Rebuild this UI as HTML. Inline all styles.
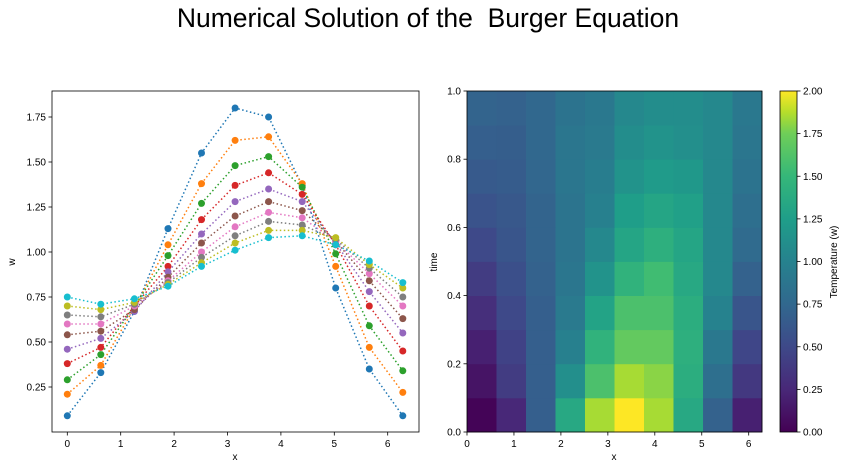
<!DOCTYPE html>
<html><head><meta charset="utf-8">
<style>
html,body{margin:0;padding:0;background:#fff;}
svg{display:block;font-family:"Liberation Sans","DejaVu Sans",sans-serif;}
</style></head>
<body>
<svg id="c" width="847" height="470" viewBox="0 0 847 470" xmlns="http://www.w3.org/2000/svg">
<text x="428" y="27" font-size="26.5" text-anchor="middle" fill="#000" style="white-space:pre">Numerical Solution of the &#160;Burger Equation</text>
</svg>
<script>
// ---- line chart data ----
const xValues = [0, 0.628, 1.257, 1.885, 2.513, 3.142, 3.770, 4.398, 5.027, 5.655, 6.283];
const seriesBlue   = [0.09, 0.33, 0.67, 1.13, 1.55, 1.80, 1.75, 1.37, 0.80, 0.35, 0.09];
const seriesOrange = [0.21, 0.37, 0.69, 1.04, 1.38, 1.62, 1.64, 1.38, 0.92, 0.47, 0.22];
const seriesGreen  = [0.29, 0.43, 0.70, 0.98, 1.27, 1.48, 1.53, 1.36, 0.99, 0.59, 0.34];
const seriesRed    = [0.38, 0.47, 0.70, 0.92, 1.18, 1.37, 1.44, 1.32, 1.04, 0.70, 0.45];
const seriesPurple = [0.46, 0.52, 0.67, 0.89, 1.10, 1.28, 1.35, 1.28, 1.05, 0.78, 0.55];
const seriesBrown  = [0.54, 0.56, 0.68, 0.86, 1.05, 1.20, 1.28, 1.23, 1.06, 0.84, 0.63];
const seriesPink   = [0.60, 0.60, 0.70, 0.84, 1.00, 1.14, 1.22, 1.19, 1.06, 0.88, 0.70];
const seriesGray   = [0.65, 0.64, 0.71, 0.83, 0.97, 1.09, 1.17, 1.15, 1.07, 0.91, 0.75];
const seriesOlive  = [0.70, 0.68, 0.72, 0.82, 0.94, 1.05, 1.12, 1.12, 1.08, 0.93, 0.80];
const seriesCyan   = [0.75, 0.71, 0.74, 0.81, 0.92, 1.01, 1.08, 1.09, 1.04, 0.95, 0.83];
const allSeries = [seriesBlue, seriesOrange, seriesGreen, seriesRed, seriesPurple, seriesBrown, seriesPink, seriesGray, seriesOlive, seriesCyan];
const seriesColors = ["#1f77b4","#ff7f0e","#2ca02c","#d62728","#9467bd","#8c564b","#e377c2","#7f7f7f","#bcbd22","#17becf"];
const leftXTicks = [0,1,2,3,4,5,6];
const leftYTicks = [0.25,0.5,0.75,1.0,1.25,1.5,1.75];
const leftYTickLabels = ["0.25","0.50","0.75","1.00","1.25","1.50","1.75"];

// ---- heatmap data (rows: time bottom->top, cols: x) ----
const heatX = [0, 0.628, 1.257, 1.885, 2.513, 3.142, 3.770, 4.398, 5.027, 5.655, 6.283];
const heatT = [0,0.1,0.2,0.3,0.4,0.5,0.6,0.7,0.8,0.9,1.0];
const heatRow0 = [0.02,0.25,0.68,1.35,1.85,2.00,1.85,1.35,0.70,0.20];
const heatRow1 = [0.12,0.40,0.68,1.12,1.60,1.85,1.80,1.40,0.82,0.37];
const heatRow2 = [0.20,0.45,0.68,0.98,1.45,1.70,1.70,1.42,0.90,0.48];
const heatRow3 = [0.30,0.50,0.68,0.92,1.30,1.60,1.60,1.40,1.00,0.60];
const heatRow4 = [0.40,0.55,0.70,0.88,1.15,1.45,1.55,1.35,1.05,0.70];
const heatRow5 = [0.50,0.60,0.72,0.87,1.05,1.32,1.42,1.32,1.05,0.78];
const heatRow6 = [0.58,0.62,0.72,0.87,0.98,1.25,1.32,1.27,1.05,0.82];
const heatRow7 = [0.64,0.65,0.74,0.88,0.95,1.15,1.22,1.20,1.05,0.86];
const heatRow8 = [0.68,0.67,0.75,0.88,0.92,1.10,1.15,1.12,1.05,0.88];
const heatRow9 = [0.72,0.70,0.75,0.86,0.90,1.05,1.10,1.10,1.05,0.90];
const heatRows = [heatRow0,heatRow1,heatRow2,heatRow3,heatRow4,heatRow5,heatRow6,heatRow7,heatRow8,heatRow9];
const heatXTicks = [0,1,2,3,4,5,6];
const heatYTicks = [0,0.2,0.4,0.6,0.8,1.0];
const heatYTickLabels = ["0.0","0.2","0.4","0.6","0.8","1.0"];
const cbarTicks = [0,0.25,0.5,0.75,1.0,1.25,1.5,1.75,2.0];
const cbarTickLabels = ["0.00","0.25","0.50","0.75","1.00","1.25","1.50","1.75","2.00"];

const NS = "http://www.w3.org/2000/svg";
const svg = document.getElementById("c");
function mk(tag, attrs, parent){
  const e = document.createElementNS(NS, tag);
  for (const k in attrs) e.setAttribute(k, attrs[k]);
  (parent||svg).appendChild(e);
  return e;
}
function txt(s, attrs, parent){ const e = mk("text", attrs, parent); e.textContent = s; return e; }

// viridis
const vir = [[0,68,1,84],[0.125,72,40,120],[0.25,62,73,137],[0.375,49,104,142],[0.5,38,130,142],[0.625,31,158,137],[0.75,53,183,121],[0.875,110,206,88],[0.9375,181,222,43],[1,253,231,37]];
function viridis(t){
  t = Math.max(0, Math.min(1, t));
  for (let i=1;i<vir.length;i++){
    if (t <= vir[i][0]){
      const a=vir[i-1], b=vir[i], f=(t-a[0])/(b[0]-a[0]);
      return `rgb(${Math.round(a[1]+f*(b[1]-a[1]))},${Math.round(a[2]+f*(b[2]-a[2]))},${Math.round(a[3]+f*(b[3]-a[3]))})`;
    }
  }
  return "rgb(253,231,37)";
}

// ---- left line chart ----
const L = {x0:52, x1:419, y0:91, y1:432};
const lx = v => 67.3 + v*53.4;
const ly = v => 252 - (v-1)*180;
const gL = mk("g", {});


allSeries.forEach((s, si) => {
  const pts = s.map((v,i)=>`${lx(xValues[i]).toFixed(1)},${ly(v).toFixed(1)}`).join(" ");
  const pl = mk("polyline", {points: pts, fill:"none", stroke: seriesColors[si], "stroke-width":1.5, "stroke-dasharray":"1.5,2.5"}, gL);
  
  
});
allSeries.forEach((s, si) => {
  s.forEach((v,i) => {
    const c = mk("circle", {cx: lx(xValues[i]).toFixed(1), cy: ly(v).toFixed(1), r: 3.5, fill: seriesColors[si]}, gL);
    
    
  });
});
const frL = mk("rect", {x:L.x0, y:L.y0, width:L.x1-L.x0, height:L.y1-L.y0, fill:"none", stroke:"#000", "stroke-width":0.8}, gL);


leftXTicks.forEach(t => {
  const x = lx(t);
  mk("line", {x1:x, x2:x, y1:L.y1, y2:L.y1+3.5, stroke:"#000", "stroke-width":0.8}, gL);
  const e = txt(String(t), {x:x, y:L.y1+15, "font-size":10, "text-anchor":"middle"}, gL);
  
  
});
leftYTicks.forEach((t,i) => {
  const y = ly(t);
  mk("line", {x1:L.x0-3.5, x2:L.x0, y1:y, y2:y, stroke:"#000", "stroke-width":0.8}, gL);
  const e = txt(leftYTickLabels[i], {x:L.x0-6, y:y+3.5, "font-size":10, "text-anchor":"end"}, gL);
  
  
});
let e1 = txt("x", {x:235, y:460, "font-size":10, "text-anchor":"middle"}, gL);


e1 = txt("w", {x:15, y:262, "font-size":10, "text-anchor":"middle", transform:"rotate(-90 15 262)"}, gL);



// ---- heatmap ----
const H = {x0:467, x1:762, y0:91, y1:432};
const hx = v => H.x0 + v/6.2832*(H.x1-H.x0);
const hy = v => H.y1 - v*(H.y1-H.y0);
const gH = mk("g", {});


heatRows.forEach((row, r) => {
  row.forEach((v, c) => {
    const x = hx(heatX[c]), x2 = hx(heatX[c+1]);
    const y = hy(heatT[r+1]), y2 = hy(heatT[r]);
    const rc = mk("rect", {x:x.toFixed(2), y:y.toFixed(2), width:(x2-x+0.4).toFixed(2), height:(y2-y+0.4).toFixed(2), fill: viridis(v/2)}, gH);
    
    
  });
});
const frH = mk("rect", {x:H.x0, y:H.y0, width:H.x1-H.x0, height:H.y1-H.y0, fill:"none", stroke:"#000", "stroke-width":0.8}, gH);


heatXTicks.forEach(t => {
  const x = hx(t);
  mk("line", {x1:x, x2:x, y1:H.y1, y2:H.y1+3.5, stroke:"#000", "stroke-width":0.8}, gH);
  const e = txt(String(t), {x:x, y:H.y1+15, "font-size":10, "text-anchor":"middle"}, gH);
  
  
});
heatYTicks.forEach((t,i) => {
  const y = hy(t);
  mk("line", {x1:H.x0-3.5, x2:H.x0, y1:y, y2:y, stroke:"#000", "stroke-width":0.8}, gH);
  const e = txt(heatYTickLabels[i], {x:H.x0-6, y:y+3.5, "font-size":10, "text-anchor":"end"}, gH);
  
  
});
e1 = txt("x", {x:614, y:460, "font-size":10, "text-anchor":"middle"}, gH);


e1 = txt("time", {x:437, y:262, "font-size":10, "text-anchor":"middle", transform:"rotate(-90 437 262)"}, gH);



// ---- colorbar ----
const C = {x0:780, x1:797, y0:91, y1:432};
const cy = v => C.y1 - v/2*(C.y1-C.y0);
const gC = mk("g", {});


const defs = mk("defs", {});
const grad = mk("linearGradient", {id:"vg", x1:0, y1:1, x2:0, y2:0}, defs);
vir.forEach(s => mk("stop", {offset: s[0], "stop-color": `rgb(${s[1]},${s[2]},${s[3]})`}, grad));
const cb = mk("rect", {x:C.x0, y:C.y0, width:C.x1-C.x0, height:C.y1-C.y0, fill:"url(#vg)", stroke:"#000", "stroke-width":0.8}, gC);


cbarTicks.forEach((t,i) => {
  const y = cy(t);
  mk("line", {x1:C.x1, x2:C.x1+3.5, y1:y, y2:y, stroke:"#000", "stroke-width":0.8}, gC);
  const e = txt(cbarTickLabels[i], {x:C.x1+6, y:y+3.5, "font-size":10}, gC);
  
  
});
e1 = txt("Temperature (w)", {x:837, y:262, "font-size":10, "text-anchor":"middle", transform:"rotate(-90 837 262)"}, gC);


</script>
</body></html>
